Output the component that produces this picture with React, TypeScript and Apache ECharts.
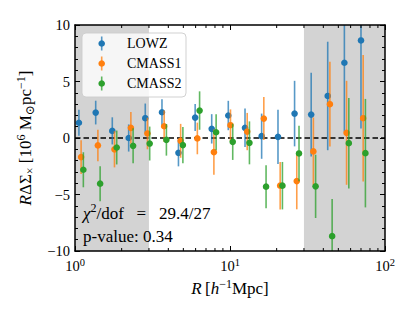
import React, { useEffect, useRef } from "react";
import * as echarts from "echarts";

// Radial bins (h^-1 Mpc)
const radii = [1.06, 1.36, 1.74, 2.22, 2.84, 3.64, 4.65, 5.96, 7.62, 9.75, 12.5, 16.0, 20.4, 26.1, 33.4, 42.7, 54.7, 70.0];

const lowzValues = [1.35, 2.25, 0.63, 0.0, 1.75, 2.28, -1.31, 1.81, 0.81, 1.99, 0.9, 0.16, 0.1, 2.16, 2.07, 3.72, 6.66, 8.63];
const lowzErrors = [1.15, 1.05, 1.2, 1.2, 1.3, 1.15, 1.2, 1.2, 1.3, 1.3, 1.7, 2.0, 2.4, 2.9, 3.7, 4.8, 6.1, 7.8];

const cmass1Values = [-1.69, -0.66, -1.0, 0.9, 0.4, 1.04, -0.25, -0.04, -1.25, 1.13, 0.57, 1.72, -4.22, -3.81, -1.19, 2.99, 0.46, 1.75];
const cmass1Errors = [1.5, 1.4, 1.6, 1.4, 1.4, 1.4, 1.5, 1.4, 2.0, 1.4, 1.65, 1.9, 2.1, 2.5, 3.0, 3.75, 4.6, 5.6];

const cmass2Values = [-2.81, -4.04, -0.84, -0.69, -0.49, -0.16, -0.63, 2.43, 0.51, -0.34, -0.43, -4.31, -4.22, -1.37, -4.28, -8.69, -0.46, -1.34];
const cmass2Errors = [1.55, 1.55, 1.5, 1.55, 1.5, 1.4, 1.6, 1.7, 1.6, 1.6, 1.9, 1.9, 2.1, 2.45, 2.8, 3.3, 4.0, 4.8];

const seriesNames = ["LOWZ", "CMASS1", "CMASS2"];
const seriesColors = ["#1f77b4", "#ff7f0e", "#2ca02c"];
const seriesDodge = [1.0, 1.033, 1.068];

const xMin = 1;
const xMax = 100;
const yMin = -10;
const yMax = 10;
const yInterval = 5;
const xMinorTicks = [2, 3, 4, 5, 6, 7, 8, 9, 20, 30, 40, 50, 60, 70, 80, 90];
const shadedRanges = [
  [1, 3],
  [30, 100],
];
const chiText = "/dof   =   29.4/27";
const pText = "p-value: 0.34";

const FONT = '"Liberation Serif", "DejaVu Serif", serif';

export default function App() {
  const ref = useRef<HTMLDivElement>(null);

  useEffect(() => {
    if (!ref.current) return;
    const chart = echarts.init(ref.current, undefined, { renderer: "svg" });

    const sets = [
      [lowzValues, lowzErrors],
      [cmass1Values, cmass1Errors],
      [cmass2Values, cmass2Errors],
    ];

    const errorSeries = sets.map(([vals, errs], k) => {
      const color = seriesColors[k];
      return {
        type: "custom",
        name: seriesNames[k],
        clip: true,
        z: 4 + k,
        encode: { x: 0, y: 1 },
        data: radii.map((r, i) => [r * seriesDodge[k], vals[i], errs[i]]),
        renderItem: (params: any, api: any) => {
          const x = api.value(0);
          const y = api.value(1);
          const e = api.value(2);
          const top = api.coord([x, y + e]);
          const bot = api.coord([x, y - e]);
          const c = api.coord([x, y]);
          return {
            type: "group",
            children: [
              {
                type: "line",
                shape: { x1: top[0], y1: top[1], x2: bot[0], y2: bot[1] },
                style: { stroke: color, lineWidth: 1.6, opacity: 0.75 },
              },
              {
                type: "circle",
                shape: { cx: c[0], cy: c[1], r: 3.3 },
                style: { fill: color },
              },
            ],
          };
        },
      };
    });

    const shadeSeries = {
      type: "custom",
      z: 1,
      silent: true,
      encode: { x: 0 },
      data: shadedRanges.map((r) => [r[0], r[1]]),
      renderItem: (params: any, api: any) => {
        const a = api.coord([api.value(0), yMax]);
        const b = api.coord([api.value(1), yMin]);
        return {
          type: "rect",
          shape: { x: a[0], y: a[1], width: b[0] - a[0], height: b[1] - a[1] },
          style: { fill: "#d3d3d3" },
        };
      },
    };

    const minorTickSeries = {
      type: "custom",
      z: 9,
      silent: true,
      encode: { x: 0 },
      data: xMinorTicks.map((v) => [v, 0]),
      renderItem: (params: any, api: any) => {
        const b = api.coord([api.value(0), yMin]);
        const t = api.coord([api.value(0), yMax]);
        return {
          type: "group",
          children: [
            { type: "line", shape: { x1: b[0], y1: b[1], x2: b[0], y2: b[1] - 3 }, style: { stroke: "#000", lineWidth: 1 } },
            { type: "line", shape: { x1: t[0], y1: t[1], x2: t[0], y2: t[1] + 3 }, style: { stroke: "#000", lineWidth: 1 } },
          ],
        };
      },
    };

    const zeroLine = {
      type: "line",
      z: 3,
      silent: true,
      symbol: "none",
      data: [
        [xMin, 0],
        [xMax, 0],
      ],
      lineStyle: { color: "#000", width: 1.5, type: [5.5, 3] },
    };

    const tickLabelRich = {
      b: { fontFamily: FONT, fontSize: 14.5, color: "#000", lineHeight: 18, verticalAlign: "middle" },
      s: { fontFamily: FONT, fontSize: 10.5, color: "#000", lineHeight: 10, verticalAlign: "top" },
    };

    const axisCommon = {
      axisLine: { show: true, onZero: false, lineStyle: { color: "#000", width: 1.5 } },
      axisTick: { show: true, inside: true, length: 5, lineStyle: { color: "#000", width: 1 } },
      splitLine: { show: false },
      z: 10,
    };

    const nameRich = {
      i: { fontFamily: FONT, fontSize: 17, fontStyle: "italic", color: "#000", lineHeight: 21, verticalAlign: "middle" },
      n: { fontFamily: FONT, fontSize: 17, color: "#000", lineHeight: 21, verticalAlign: "middle" },
      sup: { fontFamily: FONT, fontSize: 12, color: "#000", lineHeight: 11, verticalAlign: "top" },
      sub: { fontFamily: FONT, fontSize: 12, color: "#000", lineHeight: 11, verticalAlign: "bottom" },
    };

    const legendGraphics: any[] = [
      {
        type: "rect",
        shape: { x: 82, y: 33, width: 104, height: 64, r: 4 },
        style: { fill: "rgba(255,255,255,0.8)", stroke: "rgba(204,204,204,0.9)", lineWidth: 1 },
        z: 100,
      },
    ];
    seriesNames.forEach((name, k) => {
      const cy = 43.5 + 20 * k;
      legendGraphics.push(
        {
          type: "line",
          shape: { x1: 101.7, y1: cy - 7, x2: 101.7, y2: cy + 7 },
          style: { stroke: seriesColors[k], lineWidth: 1.6, opacity: 0.75 },
          z: 101,
        },
        { type: "circle", shape: { cx: 101.7, cy, r: 3.3 }, style: { fill: seriesColors[k] }, z: 102 },
        {
          type: "text",
          x: 127,
          y: cy,
          style: { text: name, fontFamily: FONT, fontSize: 14, fill: "#000", verticalAlign: "middle", align: "left" },
          z: 102,
        }
      );
    });

    const textRich = {
      g: { fontFamily: FONT, fontSize: 17, fontStyle: "italic", fill: "#000", lineHeight: 22, verticalAlign: "middle" },
      s: { fontFamily: FONT, fontSize: 12, fill: "#000", lineHeight: 12, verticalAlign: "top" },
      n: { fontFamily: FONT, fontSize: 17, fill: "#000", lineHeight: 22, verticalAlign: "middle" },
    };

    chart.setOption({
      animation: false,
      backgroundColor: "#fff",
      grid: { left: 75, top: 25, width: 310, height: 226, containLabel: false },
      xAxis: [
        {
          type: "log",
          logBase: 10,
          min: xMin,
          max: xMax,
          position: "bottom",
          ...axisCommon,
          axisLabel: {
            show: true,
            margin: 6,
            formatter: (v: number) => `{b|10}{s|${Math.round(Math.log10(v))}}`,
            rich: tickLabelRich,
          },
          name: "{i|R} {n|[}{i|h}{sup|−1}{n|Mpc]}",
          nameLocation: "middle",
          nameGap: 23,
          nameTextStyle: { rich: nameRich },
        },
        {
          type: "log",
          logBase: 10,
          min: xMin,
          max: xMax,
          position: "top",
          ...axisCommon,
          axisLabel: { show: false },
        },
      ],
      yAxis: [
        {
          type: "value",
          min: yMin,
          max: yMax,
          interval: yInterval,
          position: "left",
          ...axisCommon,
          minorTick: { show: true, splitNumber: 5, length: 3, lineStyle: { color: "#000", width: 1 } },
          axisLabel: {
            show: true,
            margin: 5,
            fontFamily: FONT,
            fontSize: 14.5,
            color: "#000",
            formatter: (v: number) => (v < 0 ? "\u2212" + Math.abs(v) : String(v)),
          },
          name: "{i|R}{n|ΔΣ}{sub|×}{n| [10}{sup|6}{n| M}{sub|⊙}{n|pc}{sup|−1}{n|]}",
          nameLocation: "middle",
          nameGap: 37,
          nameRotate: 90,
          nameTextStyle: { rich: nameRich },
        },
        {
          type: "value",
          min: yMin,
          max: yMax,
          interval: yInterval,
          position: "right",
          ...axisCommon,
          minorTick: { show: true, splitNumber: 5, length: 3, lineStyle: { color: "#000", width: 1 } },
          axisLabel: { show: false },
        },
      ],
      graphic: [
        ...legendGraphics,
        {
          type: "text",
          x: 83,
          y: 213,
          style: { text: `{g|χ}{s|2}{n|${chiText}}`, rich: textRich, verticalAlign: "middle", align: "left" },
          z: 100,
        },
        {
          type: "text",
          x: 83,
          y: 236,
          style: { text: pText, fontFamily: FONT, fontSize: 17, fill: "#000", verticalAlign: "middle", align: "left" },
          z: 100,
        },
      ],
      series: [shadeSeries, zeroLine, ...errorSeries, minorTickSeries],
    });

    return () => chart.dispose();
  }, []);

  return (
    <div
      ref={ref}
      style={{ position: "fixed", left: 0, top: 0, width: 415, height: 312, background: "#fff" }}
    />
  );
}
